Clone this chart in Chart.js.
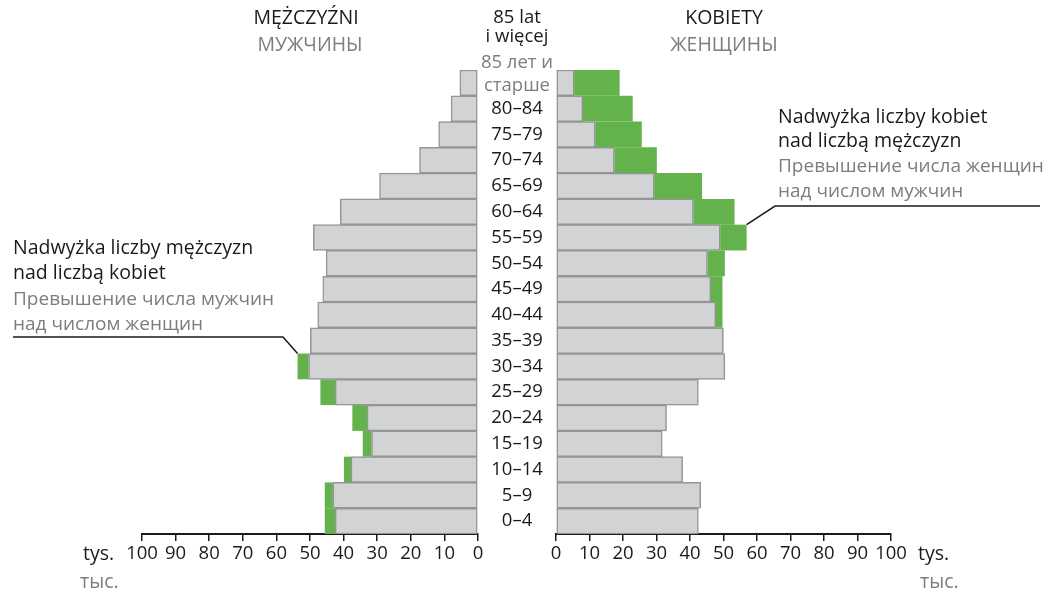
<!DOCTYPE html>
<html>
<head>
<meta charset="utf-8">
<script src="https://cdn.jsdelivr.net/npm/chart.js@4"></script>
<style>
  body { margin: 0; background: #fff; }
  #wrap { position: relative; width: 1062px; height: 593px; }
  canvas { position: absolute; left: 0; top: 0; }
</style>
</head>
<body>
<div id="wrap">
  <canvas id="men" width="1062" height="593"></canvas>
  <canvas id="women" width="1062" height="593"></canvas>
</div>
<script>
// age groups, top to bottom
var ages = ['85+', '80–84', '75–79', '70–74', '65–69', '60–64', '55–59', '50–54', '45–49',
            '40–44', '35–39', '30–34', '25–29', '20–24', '15–19', '10–14', '5–9', '0–4'];
// thousands of people
var men   = [5.4, 8.0, 11.7, 17.4, 29.3, 41.0, 49.0, 45.2, 46.2, 47.7, 49.9, 53.7, 46.9, 37.4, 34.3, 39.9, 45.6, 45.6];
var women = [19.0, 22.9, 25.6, 30.1, 43.6, 53.3, 56.9, 50.4, 49.7, 49.7, 50.0, 50.4, 42.5, 33.0, 31.7, 37.8, 43.2, 42.5];
var ticksX = [0, 10, 20, 30, 40, 50, 60, 70, 80, 90, 100];

// common part (grey) and surplus (green)
var common = men.map((m, i) => Math.min(m, women[i]));
var menExtra = men.map((m, i) => m > women[i] ? m - women[i] : null);
var womenExtra = women.map((w, i) => w > men[i] ? w - men[i] : null);

const FONT = "'Open Sans', sans-serif";
const BLACK = '#1a1a1a';
const GREY = '#7d7d7d';
const GREY_BAR = '#d2d3d5';
const GREY_EDGE = '#959595';
const GREEN = '#63b24c';

function txt(c, s, x, y, color, align) {
    c.fillStyle = color;
    c.textAlign = align || 'left';
    c.fillText(s, x, y);
}

function leader(c, pts) {
    c.save();
    c.strokeStyle = '#1a1a1a';
    c.lineWidth = 1.5;
    c.beginPath();
    c.moveTo(pts[0][0], pts[0][1]);
    for (let i = 1; i < pts.length; i++) c.lineTo(pts[i][0], pts[i][1]);
    c.stroke();
    c.restore();
}

const menTexts = {
    id: 'menTexts',
    afterDraw(chart) {
        const c = chart.ctx;
        const xs = chart.scales.x, ys = chart.scales.y;
        c.save();
        c.font = '19.5px ' + FONT;
        c.textBaseline = 'middle';
        txt(c, 'MĘŻCZYŹNI', 306, 18, BLACK, 'center');
        txt(c, 'МУЖЧИНЫ', 310, 45, GREY, 'center');
        txt(c, 'Nadwyżka liczby mężczyzn', 13, 248, BLACK);
        txt(c, 'nad liczbą kobiet', 13, 273, BLACK);
        c.font = '19px ' + FONT;
        txt(c, 'Превышение числа мужчин', 13, 300, GREY);
        txt(c, 'над числом женщин', 13, 325, GREY);
        c.font = '19.5px ' + FONT;
        txt(c, 'tys.', 83, 554, BLACK);
        txt(c, 'тыс.', 80, 582, GREY);
        // pointer to 30–34 surplus
        const i = ages.indexOf('30–34');
        const half = (ys.getPixelForValue(1) - ys.getPixelForValue(0)) / 2;
        const px = xs.getPixelForValue(men[i]);
        const py = ys.getPixelForValue(i) - half;
        leader(c, [[13, 337], [283, 337], [px, py]]);
        c.restore();
    }
};

const womenTexts = {
    id: 'womenTexts',
    afterDraw(chart) {
        const c = chart.ctx;
        const xs = chart.scales.x, ys = chart.scales.y;
        c.save();
        c.font = '19.5px ' + FONT;
        c.textBaseline = 'middle';
        txt(c, 'KOBIETY', 724, 18, BLACK, 'center');
        txt(c, 'ЖЕНЩИНЫ', 724, 45, GREY, 'center');
        txt(c, 'tys.', 918, 554, BLACK);
        txt(c, 'тыс.', 920, 582, GREY);
        c.font = '18.5px ' + FONT;
        txt(c, '85 lat', 517, 18, BLACK, 'center');
        txt(c, 'i więcej', 517, 37, BLACK, 'center');
        // age labels in the middle
        ages.forEach((a, i) => {
            const y = ys.getPixelForValue(i);
            if (i === 0) {
                txt(c, '85 лет и', 517, y - 20, GREY, 'center');
                txt(c, 'старше', 517, y + 3, GREY, 'center');
            } else {
                txt(c, a, 517, y, BLACK, 'center');
            }
        });
        c.font = '19.5px ' + FONT;
        txt(c, 'Nadwyżka liczby kobiet', 778, 117, BLACK);
        txt(c, 'nad liczbą mężczyzn', 778, 141, BLACK);
        c.font = '19px ' + FONT;
        txt(c, 'Превышение числа женщин', 778, 167, GREY);
        txt(c, 'над числом мужчин', 778, 192, GREY);
        // pointer to 55–59 surplus
        const i = ages.indexOf('55–59');
        const half = (ys.getPixelForValue(1) - ys.getPixelForValue(0)) / 2;
        const px = xs.getPixelForValue(women[i]);
        const py = ys.getPixelForValue(i) - half;
        leader(c, [[1040, 206], [775, 206], [px, py]]);
        c.restore();
    }
};

function makeChart(id, extra, reverse, padLeft, padRight, plugin) {
    return new Chart(document.getElementById(id), {
        type: 'bar',
        data: {
            labels: ages,
            datasets: [
                {
                    data: common,
                    backgroundColor: GREY_BAR,
                    borderColor: GREY_EDGE,
                    borderWidth: 1.5,
                    borderSkipped: false
                },
                {
                    data: extra,
                    backgroundColor: GREEN,
                    borderWidth: 0,
                    inflateAmount: 0
                }
            ]
        },
        options: {
            indexAxis: 'y',
            responsive: false,
            animation: false,
            layout: { padding: { left: padLeft, right: padRight, top: 70, bottom: 19 } },
            datasets: { bar: { categoryPercentage: 1, barPercentage: 1 } },
            plugins: { legend: { display: false }, tooltip: { enabled: false } },
            scales: {
                x: {
                    stacked: true,
                    reverse: reverse,
                    min: 0,
                    max: 100,
                    afterBuildTicks: s => { s.ticks = ticksX.map(v => ({ value: v })); },
                    afterFit: s => { s.height = 40; },
                    ticks: {
                        color: BLACK,
                        padding: 2,
                        maxRotation: 0,
                        autoSkip: false,
                        font: { family: FONT, size: 18.5 }
                    },
                    grid: { drawOnChartArea: false, drawTicks: true, tickLength: 7, color: '#1a1a1a', lineWidth: 1.5 },
                    border: { display: true, color: '#1a1a1a', width: 2 }
                },
                y: { stacked: true, display: false }
            }
        },
        plugins: [plugin]
    });
}

makeChart('men', menExtra, true, 142, 1062 - 478, menTexts);
makeChart('women', womenExtra, false, 556, 1062 - 891, womenTexts);
</script>
</body>
</html>
